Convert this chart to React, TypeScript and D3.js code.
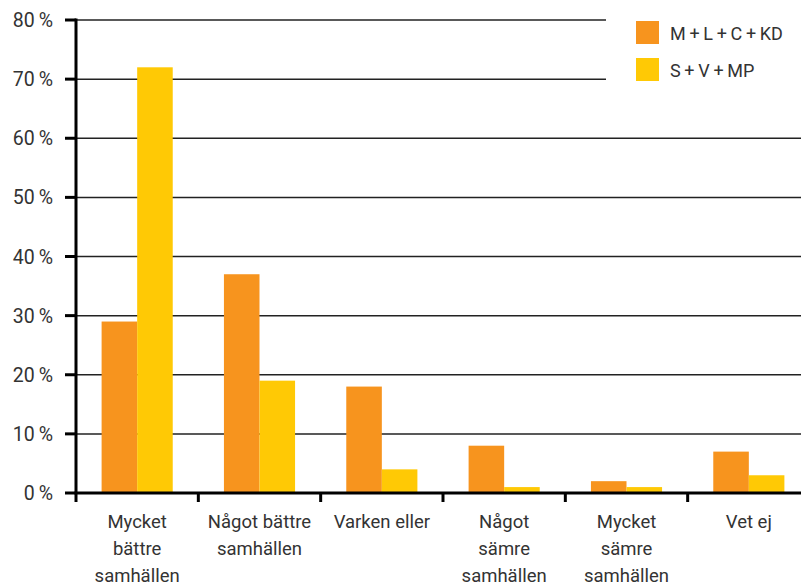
import React from "react";
import * as d3 from "d3";

const categories = [
  ["Mycket", "bättre", "samhällen"],
  ["Något bättre", "samhällen"],
  ["Varken eller"],
  ["Något", "sämre", "samhällen"],
  ["Mycket", "sämre", "samhällen"],
  ["Vet ej"],
];
const seriesNames = ["M\u2009+\u2009L\u2009+\u2009C\u2009+\u2009KD", "S\u2009+\u2009V\u2009+\u2009MP"];
const seriesA = [29, 37, 18, 8, 2, 7];
const seriesB = [72, 19, 4, 1, 1, 3];
const yTicks = [0, 10, 20, 30, 40, 50, 60, 70, 80];
const colors = ["#F7941E", "#FFC905"];

export default function App() {
  const W = 801, H = 583;
  const left = 76, right = 810, top = 20, bottom = 493;
  const x = d3.scaleBand<number>().domain(d3.range(categories.length)).range([left, right]);
  const inner = d3.scaleBand<number>().domain([0, 1]).range([0, x.bandwidth()]).paddingOuter(0.72).paddingInner(0);
  const y = d3.scaleLinear().domain([0, 80]).range([bottom, top]);
  const font = "Roboto, 'Liberation Sans', sans-serif";
  const series = [seriesA, seriesB];
  return (
    <svg width={W} height={H} style={{ position: "absolute", left: 0, top: 0, overflow: "hidden" }}>
      <rect width={W} height={H} fill="#fff" />
      {yTicks.map((t) => (
        <g key={t}>
          {t > 0 && <line x1={left} x2={W} y1={y(t)} y2={y(t)} stroke="#222" strokeWidth={1.5} />}
          <line x1={65} x2={left} y1={y(t)} y2={y(t)} stroke="#000" strokeWidth={3} />
          <text x={53} y={y(t)} dy="0.36em" textAnchor="end" fontFamily={font} fontSize={19.5} fill="#333">
            {`${t}\u2009%`}
          </text>
        </g>
      ))}
      {series.map((s, si) =>
        s.map((v, i) => (
          <rect
            key={`${si}-${i}`}
            x={(x(i) as number) + (inner(si) as number)}
            y={y(v)}
            width={inner.bandwidth()}
            height={bottom - y(v)}
            fill={colors[si]}
          />
        ))
      )}
      <line x1={left} x2={left} y1={top - 1.5} y2={bottom} stroke="#000" strokeWidth={3} />
      <line x1={left - 1.5} x2={W} y1={bottom} y2={bottom} stroke="#000" strokeWidth={3} />
      {categories.map((c, i) => {
        const x0 = x(i) as number;
        const cx = x0 + x.bandwidth() / 2;
        return (
          <g key={i}>
            <line x1={x0} x2={x0} y1={bottom} y2={bottom + 9} stroke="#000" strokeWidth={3} />
            {c.map((line, li) => (
              <text key={li} x={cx} y={528 + li * 27} textAnchor="middle" fontFamily={font} fontSize={18.5} fill="#333">
                {line}
              </text>
            ))}
          </g>
        );
      })}
      <rect x={606} y={12} width={W - 606} height={88} fill="#fff" />
      {seriesNames.map((n, i) => (
        <g key={n}>
          <rect x={636} y={21 + i * 37} width={23} height={23} fill={colors[i]} />
          <text x={670} y={40 + i * 37} fontFamily={font} fontSize={18} fill="#333">
            {n}
          </text>
        </g>
      ))}
    </svg>
  );
}
